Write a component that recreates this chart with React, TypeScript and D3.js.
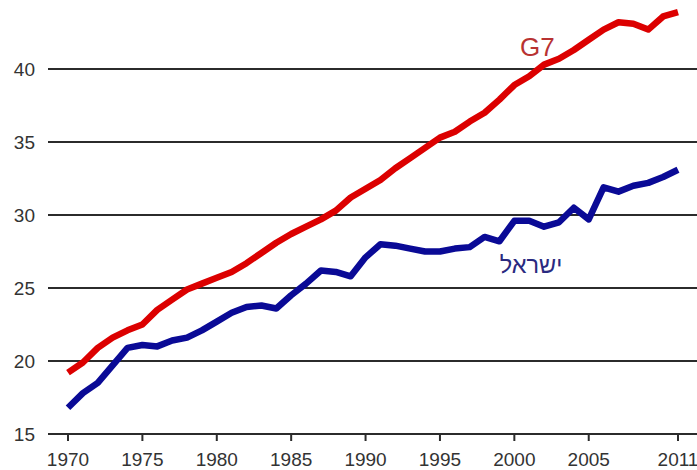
import { scaleLinear, line } from "d3";

// years 1970..2011
const years = Array.from({ length: 42 }, (_, i) => 1970 + i);

const g7Values = [
  19.2, 19.9, 20.9, 21.6, 22.1, 22.5, 23.5, 24.2, 24.9, 25.3,
  25.7, 26.1, 26.7, 27.4, 28.1, 28.7, 29.2, 29.7, 30.3, 31.2,
  31.8, 32.4, 33.2, 33.9, 34.6, 35.3, 35.7, 36.4, 37.0, 37.9,
  38.9, 39.5, 40.3, 40.7, 41.3, 42.0, 42.7, 43.2, 43.1, 42.7,
  43.6, 43.9,
];

const israelValues = [
  16.8, 17.8, 18.5, 19.7, 20.9, 21.1, 21.0, 21.4, 21.6, 22.1,
  22.7, 23.3, 23.7, 23.8, 23.6, 24.5, 25.3, 26.2, 26.1, 25.8,
  27.1, 28.0, 27.9, 27.7, 27.5, 27.5, 27.7, 27.8, 28.5, 28.2,
  29.6, 29.6, 29.2, 29.5, 30.5, 29.7, 31.9, 31.6, 32.0, 32.2,
  32.6, 33.1,
];

const yTicks = [15, 20, 25, 30, 35, 40];
const xTicks = [1970, 1975, 1980, 1985, 1990, 1995, 2000, 2005, 2011];

const seriesLabels = { g7: "G7", israel: "ישראל" };

const width = 697;
const height = 470;
const font = "'Liberation Sans', Arial, sans-serif";

export default function App() {
  const x = scaleLinear().domain([1970, 2011]).range([68, 678]);
  const y = scaleLinear().domain([15, 40]).range([434, 69]);

  const path = line<number>()
    .x((_, i) => x(years[i]))
    .y((d) => y(d));

  return (
    <svg
      width={width}
      height={height}
      viewBox={`0 0 ${width} ${height}`}
      style={{ position: "absolute", left: 0, top: 0, background: "#fff" }}
    >
      {/* horizontal grid + left labels */}
      {yTicks.map((t) => (
        <g key={t}>
          <line x1={48} x2={width} y1={y(t)} y2={y(t)} stroke="#2b2b2b" strokeWidth={2} />
          <text
            x={35}
            y={y(t)}
            dy="0.35em"
            textAnchor="end"
            fontFamily={font}
            fontSize={19}
            fill="#333"
          >
            {t}
          </text>
        </g>
      ))}

      {/* bottom ticks */}
      {xTicks.map((t) => (
        <g key={t}>
          <line x1={x(t)} x2={x(t)} y1={y(15)} y2={y(15) + 7} stroke="#2b2b2b" strokeWidth={2} />
          <text
            x={x(t)}
            y={459}
            dy="0.35em"
            textAnchor="middle"
            fontFamily={font}
            fontSize={19}
            fill="#333"
          >
            {t}
          </text>
        </g>
      ))}

      <path
        d={path(g7Values) ?? ""}
        fill="none"
        stroke="#dc0000"
        strokeWidth={6.5}
        strokeLinejoin="round"
      />
      <path
        d={path(israelValues) ?? ""}
        fill="none"
        stroke="#0a0a96"
        strokeWidth={6.5}
        strokeLinejoin="round"
      />

      <text x={520} y={56} fontFamily={font} fontSize={26} fill="#b83232">
        {seriesLabels.g7}
      </text>
      <text
        x={531}
        y={273}
        textAnchor="middle"
        fontFamily={font}
        fontSize={23.5}
        fill="#2a2a80"
      >
        {seriesLabels.israel}
      </text>
    </svg>
  );
}
